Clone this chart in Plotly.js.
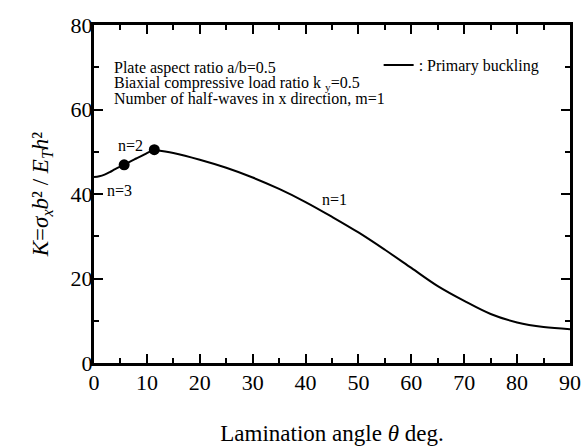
<!DOCTYPE html>
<html>
<head>
<meta charset="utf-8">
<script src="https://cdn.plot.ly/plotly-3.0.1.min.js"></script>
<style>html,body{margin:0;padding:0;background:#fff;}#chart{width:588px;height:447px;}</style>
</head>
<body>
<div id="chart"></div>
<script>
// n=3 branch
var thetaN3 = [0, 1, 2, 3, 4, 5, 5.7];
var kN3 = [44.0, 44.2, 44.6, 45.2, 45.9, 46.5, 46.9];
// n=2 branch
var thetaN2 = [5.7, 7, 8, 9, 10, 11.4];
var kN2 = [46.9, 47.8, 48.4, 49.0, 49.7, 50.5];
// n=1 branch
var thetaN1 = [11.4, 15, 20, 25, 30, 35, 40, 45, 50, 55, 60, 65, 70, 75, 80, 85, 90];
var kN1 = [50.5, 49.7, 48.1, 46.2, 43.9, 41.2, 38.1, 34.6, 30.9, 26.8, 22.5, 18.2, 14.7, 11.6, 9.6, 8.5, 8.0];
// mode transition points
var thetaSwitch = [5.7, 11.4];
var kSwitch = [46.9, 50.5];
var xTickVals = [0, 10, 20, 30, 40, 50, 60, 70, 80, 90];
var yTickVals = [0, 20, 40, 60, 80];
// texts
var infoLines = [
  'Plate aspect ratio a/b=0.5',
  'Biaxial compressive load ratio k <sub>y</sub>=0.5',
  'Number of half-waves in x direction, m=1'
];
var infoLinesPlain = [
  'Plate aspect ratio a/b=0.5',
  'Biaxial compressive load ratio k y=0.5',
  'Number of half-waves in x direction, m=1'
];
var modeLabels = ['n=1', 'n=2', 'n=3'];

var FAM = 'Liberation Serif, Times New Roman, serif';

function f(size) { return {family: FAM, size: size, color: '#000'}; }

function build(level) {
  var traces = [
    {x: thetaN1, y: kN1, mode: 'lines', line: {color: '#000', width: 2, shape: 'spline'}, name: ': Primary buckling', showlegend: true},
    {x: thetaN2, y: kN2, mode: 'lines', line: {color: '#000', width: 2, shape: 'spline'}, showlegend: false},
    {x: thetaN3, y: kN3, mode: 'lines', line: {color: '#000', width: 2, shape: 'spline'}, showlegend: false},
    {x: thetaSwitch, y: kSwitch, mode: 'markers', marker: {color: '#000', size: 11}, showlegend: false}
  ];
  var yTitle = level < 2
    ? '<i>K</i>=<i>σ</i><sub><i>x</i></sub><i>b</i>² / <i>E</i><sub><i>T</i></sub><i>h</i>²'
    : 'K=σx b² / ET h²';
  var xaxis = {
    range: [0, 90], tickmode: 'array', tickvals: xTickVals,
    showgrid: false, zeroline: false, showline: true, linecolor: '#000', linewidth: 3,
    mirror: 'allticks', ticks: 'inside', ticklen: 9, tickwidth: 1.5, tickcolor: '#000',
    tickfont: f(22),
    minor: {dtick: 5, ticks: 'inside', ticklen: 5, tickwidth: 1.5, tickcolor: '#000'},
    title: {text: level < 2 ? 'Lamination angle <i>θ</i> deg.' : 'Lamination angle θ deg.', font: f(23), standoff: 31}
  };
  var yaxis = {
    range: [0, 80], tickmode: 'array', tickvals: yTickVals,
    showgrid: false, zeroline: false, showline: true, linecolor: '#000', linewidth: 3,
    mirror: 'allticks', ticks: 'inside', ticklen: 9, tickwidth: 1.5, tickcolor: '#000',
    tickfont: f(22),
    title: {text: yTitle, font: f(23), standoff: 16}
  };
  if (level < 3) yaxis.minor = {dtick: 10, ticks: 'inside', ticklen: 5, tickwidth: 1.5, tickcolor: '#000'};
  if (level < 1) { yaxis.ticklabelstandoff = -6; xaxis.ticklabelstandoff = -2; }
  var lines = level < 2 ? infoLines : infoLinesPlain;
  var anns = [
    {xref: 'paper', yref: 'paper', x: 0.038, y: 0.873, xanchor: 'left', yanchor: 'middle', showarrow: false, text: lines[0], font: f(16)},
    {xref: 'paper', yref: 'paper', x: 0.038, y: 0.828, xanchor: 'left', yanchor: 'middle', showarrow: false, text: lines[1], font: f(16)},
    {xref: 'paper', yref: 'paper', x: 0.038, y: 0.784, xanchor: 'left', yanchor: 'middle', showarrow: false, text: lines[2], font: f(16)},
    {xref: 'x', yref: 'y', x: 45.5, y: 38.6, text: modeLabels[0], showarrow: false, font: f(16)},
    {xref: 'x', yref: 'y', x: 6.9, y: 51.4, text: modeLabels[1], showarrow: false, font: f(16)},
    {xref: 'x', yref: 'y', x: 2.0, y: 40.9, xanchor: 'left', text: modeLabels[2], showarrow: false, font: f(16)}
  ];
  var legend = {x: 0.598, y: 0.932, xanchor: 'left', yanchor: 'top', bgcolor: 'rgba(0,0,0,0)'};
  if (level < 1) legend.font = f(16);
  var layout = {
    width: 588, height: 447,
    margin: {l: 94, r: 18, t: 25, b: 84},
    font: {family: FAM, color: '#000', size: 16},
    xaxis: xaxis, yaxis: yaxis,
    showlegend: true, legend: legend,
    annotations: anns
  };
  return [traces, layout];
}

var gd = document.getElementById('chart');
var level = 0;
function ok() { return gd.querySelectorAll('path.xtick').length > 0 && gd.querySelectorAll('path.ytick').length > 0; }
function draw() {
  var p = build(level);
  var pr;
  try { pr = Plotly.newPlot(gd, p[0], p[1], {displayModeBar: false}); } catch (e) { pr = null; }
  if (pr && pr.then) {
    pr.then(function () { retryIfBad(); }, function () { retryIfBad(); });
  }
  setTimeout(retryIfBad, 60);
}
var myLevel = -1;
function retryIfBad() {
  if (ok()) return;
  if (myLevel === level && level < 3) {
    level += 1;
    try { Plotly.purge(gd); } catch (e) {}
    myLevel = -1;
    draw();
    myLevel = level;
  }
}
myLevel = 0;
draw();
myLevel = level;
</script>
</body>
</html>
